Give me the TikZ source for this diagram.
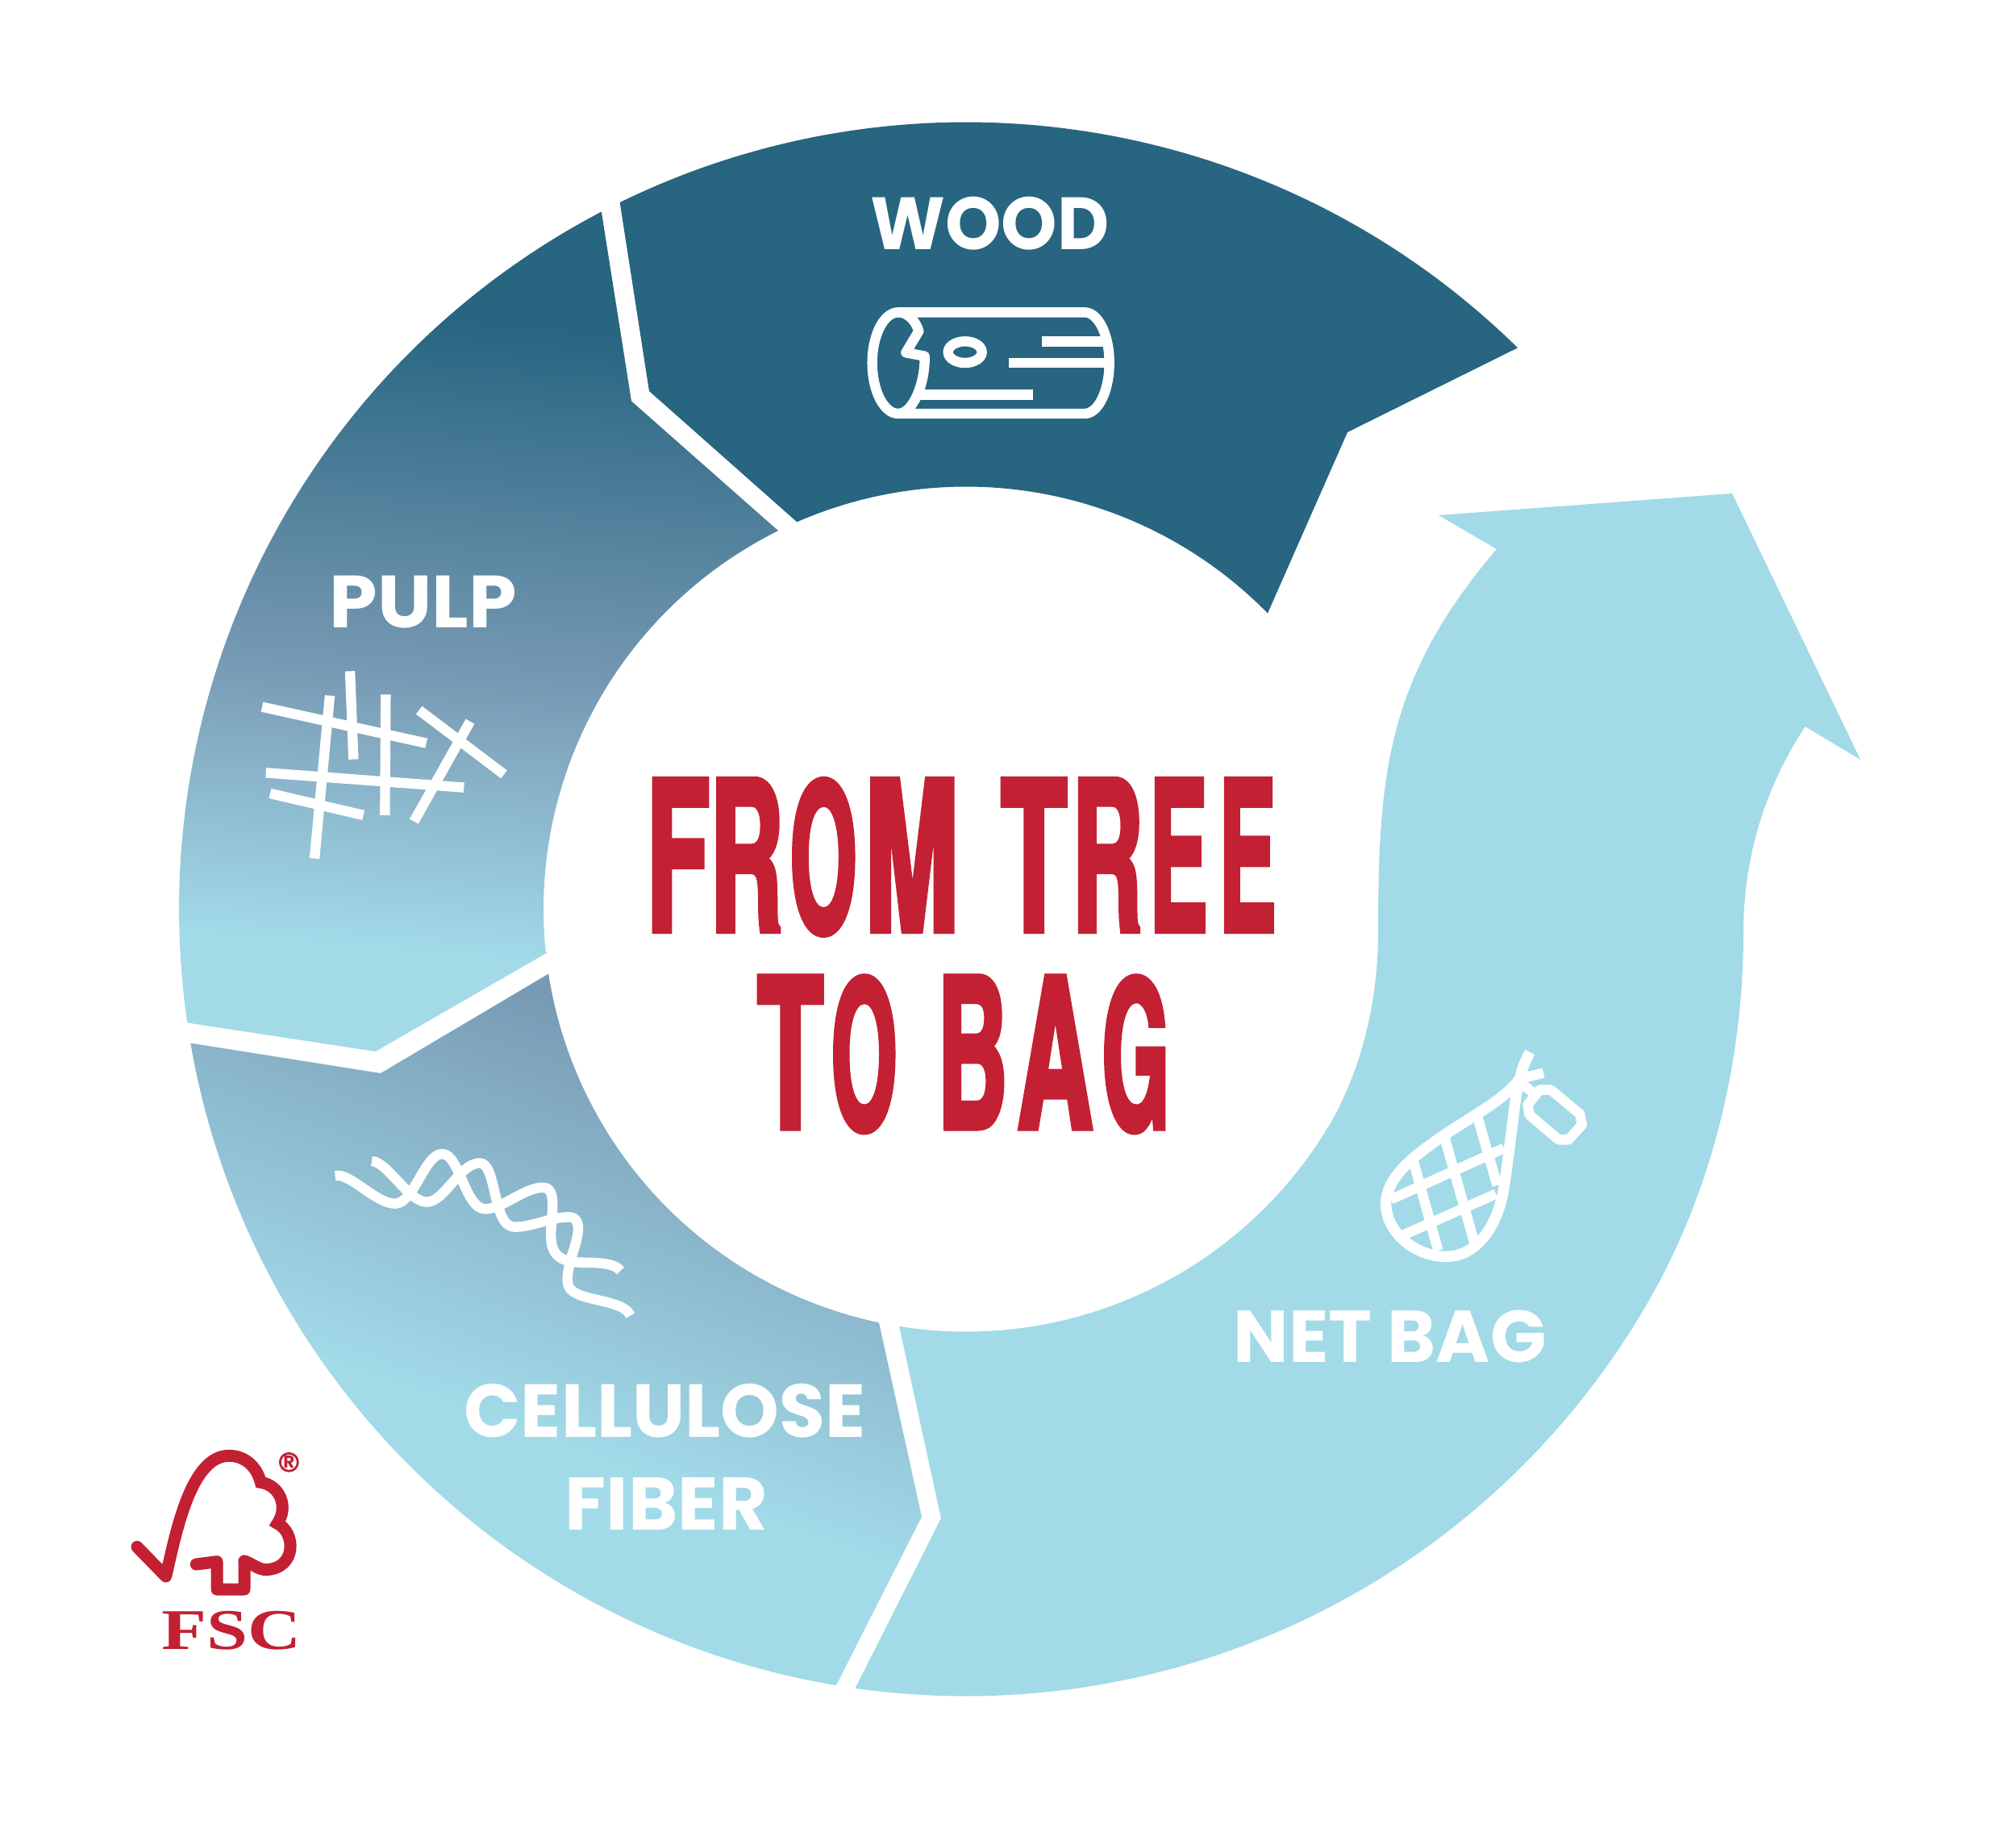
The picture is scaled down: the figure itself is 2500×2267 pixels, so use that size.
\documentclass[tikz,border=0pt]{standalone}
\usepackage{fontspec}
\usepackage{graphicx}
\newfontfamily\labelfont{Poppins}
\newfontfamily\titlefont[FakeStretch=0.55,FakeBold=2]{TeX Gyre Heros Cn}
\newfontfamily\logofont{Liberation Serif}
\newdimen\px \px=0.01cm
\newdimen\ltrw
\newdimen\ltrx
\newcommand\fitbox[3]{\resizebox*{#1\px}{#2\px}{\labelfont\bfseries #3}}
\newcommand\ltr[4]{\ltrw=#2\px \ltrx=#1\px \advance\ltrx by -0.04\ltrw \ltrw=1.08\ltrw
  \rlap{\hspace*{\ltrx}\resizebox*{\ltrw}{#3\px}{\titlefont\bfseries #4}}}
\definecolor{darkb}{RGB}{39,101,129}
\definecolor{midb}{RGB}{120,154,180}
\definecolor{lightb}{RGB}{162,218,232}
\definecolor{fscred}{RGB}{195,32,51}
\pgfdeclareverticalshading{pulpgrad}{100bp}{color(0bp)=(lightb); color(36bp)=(lightb); color(48bp)=(midb); color(64bp)=(darkb); color(100bp)=(darkb)}
\pgfdeclareverticalshading{cellgrad}{100bp}{color(0bp)=(lightb); color(36bp)=(lightb); color(62bp)=(midb); color(100bp)=(midb)}
\def\arcout#1#2{plot[domain=#1:#2,samples=150,variable=\t] ({1198+976*cos(\t)},{1127.5+976*sin(\t)})}
\def\arcin#1#2{-- plot[domain=#1:#2,samples=120,variable=\t] ({1198+524*cos(\t)},{1127.5+524*sin(\t)})}
\tikzset{
  lbl/.style={inner sep=0pt,outer sep=0pt,text=white},
  ttl/.style={inner sep=0pt,outer sep=0pt,text=fscred,anchor=base west},
  icon/.style={draw=white,line width=12.4\px,line cap=butt,line join=round},
  logo/.style={draw=fscred,line width=15\px,line cap=round,line join=round},
}
\begin{document}
\begin{tikzpicture}[x=0.01cm,y=-0.01cm]
\useasboundingbox (0,0) rectangle (2500,2267);
\fill[white] (0,0) rectangle (2500,2267);

% net bag arrow
\fill[lightb] \arcout{98.1}{27.9}
  .. controls (2130,1450) and (2162,1300) .. (2162,1156)
  .. controls (2162,1060) and (2190,975) .. (2238.5,901)
  -- (2307,942) -- (2148,612) -- (1784,639) -- (1856,681)
  .. controls (1720,840) and (1709,960) .. (1709,1156)
  .. controls (1709,1245) and (1687,1330) .. (1647,1398)
  \arcin{31.2}{99.1} -- (1167,1883) -- cycle;

% wood arrow
\fill[darkb] \arcout{-116.1}{-45.5} -- (1671,536) -- (1572,760.5)
  \arcin{-44.3}{-113.6} -- (805,485) -- cycle;

% pulp segment
\begin{scope}
  \clip \arcout{-117.6}{-188.3} -- (465.6,1304) -- (681,1180)
    \arcin{-185.9}{-116.4} -- (783,497.5) -- cycle;
  \shade[shading=pulpgrad,transform canvas={rotate around={-5:(700,800)}}] (-400,100) rectangle (1800,1500);
\end{scope}

% cellulose segment
\begin{scope}
  \clip \arcout{170.2}{99.5} -- (1143,1881)
    \arcin{101.9}{171.2} -- (472,1331) -- cycle;
  \shade[shading=cellgrad,transform canvas={rotate around={-20:(700,1600)}}] (-800,1000) rectangle (2200,2000);
\end{scope}

% labels
\node[lbl] (wood) at (1227.5,277.5) {\fitbox{296}{66}{WOOD}};
\node[lbl] (pulp) at (525,746.5) {\fitbox{232}{65}{PULP}};
\node[lbl] (cellulose) at (824.5,1749.5) {\fitbox{498}{67}{CELLULOSE}};
\node[lbl] (fiber) at (826.5,1864.5) {\fitbox{251}{65}{FIBER}};
\node[lbl] (netbag) at (1723.5,1657.5) {\fitbox{388}{65}{NET BAG}};

% title
\node[ttl] (from) at (808,1155.5) {\ltr{-5}{72}{190}{F}\ltr{75}{83}{190}{R}\ltr{173}{77}{195}{O}\ltr{267}{109}{190}{M}};
\node[ttl] (tree) at (1240,1155.5) {\ltr{3}{75}{190}{T}\ltr{92}{80}{190}{R}\ltr{187}{66}{190}{E}\ltr{273}{65}{190}{E}};
\node[ttl] (to) at (938,1400) {\ltr{3}{75}{190}{T}\ltr{94}{76}{195}{O}};
\node[ttl] (bag) at (1170,1400) {\ltr{-5}{79}{190}{B}\ltr{94}{86}{190}{A}\ltr{198}{77}{195}{G}};

% log icon
\begin{scope}[shift={(1000,200)},scale=1/3]
  \draw[icon] (418,632) .. controls (405,590) and (375,562) .. (342,562)
    .. controls (288,562) and (245,646) .. (245,750)
    .. controls (245,854) and (288,939) .. (342,939)
    .. controls (395,939) and (442,830) .. (440,725) -- (370,712) -- cycle;
  \draw[icon] (342,562) -- (1035,562)
    .. controls (1086,562) and (1127,646) .. (1127,750)
    .. controls (1127,854) and (1086,939) .. (1035,939) -- (342,939);
  \draw[icon] (875,671) -- (1105,671);
  \draw[icon] (753,750) -- (1127,750);
  \draw[icon] (425,868) -- (842,868);
  \draw[icon] (590,710) ellipse [x radius=63,y radius=40];
\end{scope}

% pulp icon
\begin{scope}[shift={(280,680)},scale=1/3]
  \draw[icon] (135,590) -- (746,725);
  \draw[icon] (387,548) -- (330,1154);
  \draw[icon] (462,457) -- (475,785);
  \draw[icon] (595,544) -- (592,993);
  \draw[icon] (149,835) -- (886,890);
  \draw[icon] (165,912) -- (512,993);
  \draw[icon] (909,644) -- (700,1016);
  \draw[icon] (719,602) -- (1035,841);
\end{scope}

% fibre icon
\begin{scope}[shift={(380,1380)},scale=1/3]
  \draw[icon] (107,235) .. controls (160,220) and (260,340) .. (330,338)
    .. controls (400,338) and (440,153) .. (505,153)
    .. controls (570,153) and (590,358) .. (665,358)
    .. controls (730,358) and (810,278) .. (880,278)
    .. controls (940,278) and (905,400) .. (910,470)
    .. controls (915,540) and (960,557) .. (1030,557)
    .. controls (1090,558) and (1150,560) .. (1168,588);
  \draw[icon] (243,180) .. controls (300,180) and (380,332) .. (447,332)
    .. controls (515,332) and (570,187) .. (645,187)
    .. controls (710,187) and (690,425) .. (775,425)
    .. controls (840,425) and (910,388) .. (975,388)
    .. controls (1040,388) and (1000,490) .. (985,540)
    .. controls (975,580) and (965,620) .. (975,645)
    .. controls (1000,705) and (1180,690) .. (1205,755);
\end{scope}

% net bag icon
\begin{scope}[shift={(1680,1280)},scale=1/3]
  \draw[icon,line width=13.5\px] (652,75) .. controls (635,105) and (622,135) .. (615,172)
    .. controls (560,250) and (440,310) .. (330,385)
    .. controls (220,460) and (116,540) .. (116,640)
    .. controls (116,740) and (220,835) .. (340,835)
    .. controls (455,835) and (530,720) .. (553,590)
    .. controls (575,450) and (590,300) .. (605,205);
  \draw[icon] (635,168) -- (702,152);
  \draw[icon] (620,190) -- (662,225);
  \draw[icon] (688,215) -- (730,215) -- (838,305) -- (845,345) -- (795,400) -- (758,400) -- (650,308) -- (643,270) -- cycle;
  \draw[icon] (214,465) -- (310,812);
  \draw[icon] (332,385) -- (447,790);
  \draw[icon] (452,300) -- (530,570);
  \draw[icon] (135,622) -- (555,432);
  \draw[icon] (180,755) -- (525,602);
\end{scope}

% FSC logo
\begin{scope}[shift={(140,1770)},scale=1/3]
  \draw[logo] (90,445) -- (197,555)
    .. controls (235,390) and (290,106) .. (432,106);
  \draw[logo,line join=miter] (432,106)
    .. controls (490,106) and (535,145) .. (550,205)
    .. controls (620,215) and (655,295) .. (612,358)
    .. controls (680,390) and (685,525) .. (570,530)
    .. controls (540,530) and (515,505) .. (489,498);
  \draw[logo] (489,498) -- (489,603) -- (387,603) -- (387,500) -- (310,510);
  \draw[draw=fscred,line width=2.8\px] (655,130) circle [radius=33];
  \node[inner sep=0pt,text=fscred] (regmark) at (655,130) {\resizebox*{14\px}{15\px}{\labelfont\bfseries R}};
  \node[inner sep=0pt,text=fscred] (fsc) at (440,757) {\resizebox*{173\px}{48\px}{\logofont\bfseries FSC}};
\end{scope}
\end{tikzpicture}
\end{document}
